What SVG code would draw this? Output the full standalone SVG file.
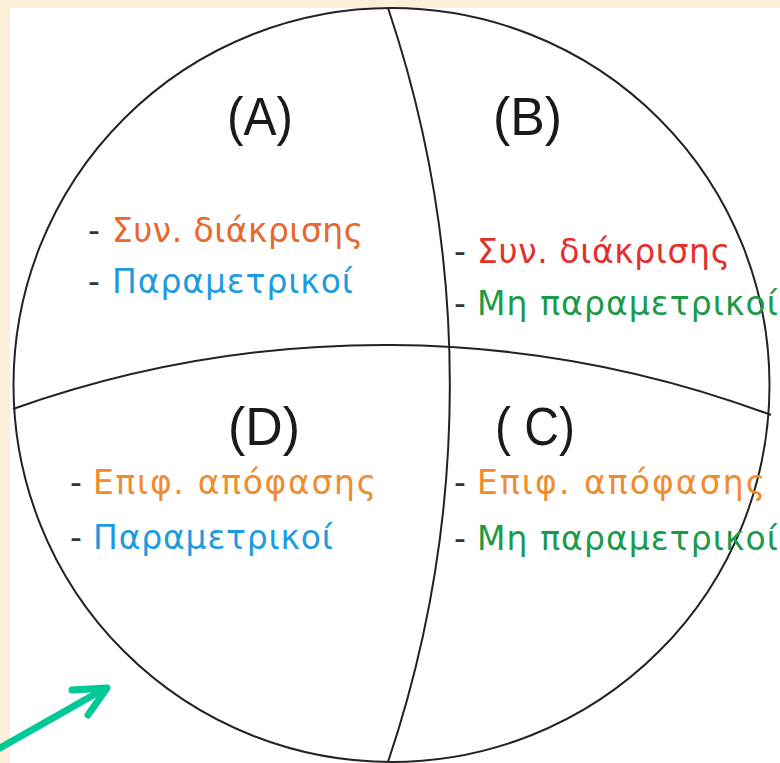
<svg xmlns="http://www.w3.org/2000/svg" width="780" height="763" viewBox="0 0 780 763">
<style>
.ln{fill:none;stroke:#222;stroke-width:2}
.big{font-family:"Liberation Sans",Arial,sans-serif;font-size:54px;fill:#1a1a1a}
.sm{font-family:"DejaVu Sans",sans-serif;font-size:33px}
.dash{font-family:"DejaVu Sans",sans-serif;font-size:33px;fill:#333}
.or1{fill:#e8672d}.bl{fill:#1d9be0}.rd{fill:#e2302c}.gr{fill:#1b9a48}.or2{fill:#f08c30}
</style>
<rect x="0" y="0" width="780" height="763" fill="#fbefd9"/>
<rect x="10" y="8" width="770" height="755" fill="#ffffff"/>
<g id="circle">
<ellipse class="ln" cx="391.5" cy="385" rx="378" ry="377"/>
</g>
<g id="connectors">
<path class="ln" d="M388,8 A1180,1180 0 0 1 388,762"/>
<path class="ln" d="M13,409 A1106,1106 0 0 1 771,415"/>
<g fill="none" stroke="#00c896" stroke-width="7" stroke-linecap="round" stroke-linejoin="round">
<path d="M0,748 L104,689"/>
<path d="M72,690 L107,688 L88,715"/>
</g>
</g>
<g id="regionA">
<text class="big" x="227" y="135" textLength="66" lengthAdjust="spacingAndGlyphs">(A)</text>
<text class="dash" x="88" y="242">-</text>
<text class="sm or1" x="112" y="242" textLength="251" lengthAdjust="spacing">Συν. διάκρισης</text>
<text class="dash" x="88" y="293">-</text>
<text class="sm bl" x="112" y="293" textLength="241" lengthAdjust="spacing">Παραμετρικοί</text>
</g>
<g id="regionB">
<text class="big" x="493" y="135" textLength="69" lengthAdjust="spacingAndGlyphs">(B)</text>
<text class="dash" x="454" y="263">-</text>
<text class="sm rd" x="477" y="263" textLength="253" lengthAdjust="spacing">Συν. διάκρισης</text>
<text class="dash" x="454" y="315">-</text>
<text class="sm gr" x="477" y="315" textLength="301" lengthAdjust="spacing">Μη παραμετρικοί</text>
</g>
<g id="regionD">
<text class="big" x="228" y="445" textLength="72" lengthAdjust="spacingAndGlyphs">(D)</text>
<text class="dash" x="70" y="494">-</text>
<text class="sm or2" x="93" y="494" textLength="283" lengthAdjust="spacing">Επιφ. απόφασης</text>
<text class="dash" x="70" y="549">-</text>
<text class="sm bl" x="93" y="549" textLength="240" lengthAdjust="spacing">Παραμετρικοί</text>
</g>
<g id="regionC">
<text class="big" x="495" y="445" textLength="80" lengthAdjust="spacingAndGlyphs">( C)</text>
<text class="dash" x="454" y="494">-</text>
<text class="sm or2" x="477" y="494" textLength="288" lengthAdjust="spacing">Επιφ. απόφασης</text>
<text class="dash" x="454" y="550">-</text>
<text class="sm gr" x="477" y="550" textLength="301" lengthAdjust="spacing">Μη παραμετρικοί</text>
</g>
</svg>
